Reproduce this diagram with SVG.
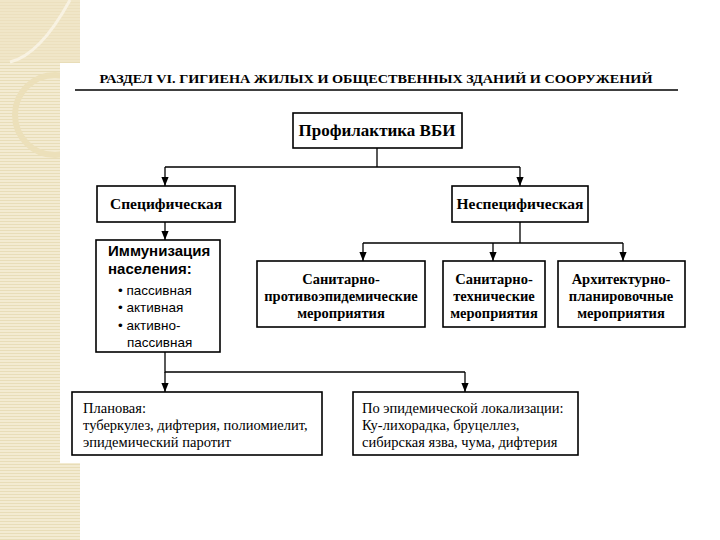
<svg xmlns="http://www.w3.org/2000/svg" width="720" height="540" viewBox="0 0 720 540">
<defs>
<pattern id="stripes" width="6" height="3" patternUnits="userSpaceOnUse">
<rect width="6" height="3" fill="#F3EBD2"/>
<rect y="2" width="6" height="1" fill="#E8DDB8"/>
</pattern>
<marker id="arr" viewBox="0 0 10 10" refX="10" refY="5" markerWidth="7" markerHeight="7" orient="auto">
<path d="M0,1 L10,5 L0,9 Z" fill="#000"/>
</marker>
<style>
.box{fill:#fff;stroke:#000;stroke-width:1.6}
.t{font-family:"Liberation Serif","Times New Roman",serif;font-weight:bold;font-size:14.5px;fill:#000;text-anchor:middle}
.s{font-family:"Liberation Sans",Arial,sans-serif;font-weight:bold;font-size:13.5px;fill:#000}
.b{font-family:"Liberation Sans",Arial,sans-serif;font-size:13.5px;fill:#000}
.r{font-family:"Liberation Serif","Times New Roman",serif;font-size:14.5px;fill:#000}
.c{fill:none;stroke:#000;stroke-width:1.3}
</style>
</defs>
<rect width="720" height="540" fill="#fff"/>
<g id="decor">
<rect x="0" y="0" width="80" height="540" fill="url(#stripes)"/>
<rect x="0" y="0" width="80" height="62" fill="#EFE3C2" opacity="0.6"/>
<path d="M10,62 Q40,55 70,0" fill="none" stroke="#F8F2E2" stroke-width="3"/>
<circle cx="55" cy="115" r="40" fill="none" stroke="#ECE0BA" stroke-width="6"/>
<rect x="60" y="63" width="660" height="400" fill="#fff"/>
</g>
<g id="header">
<text x="376" y="83" font-family="'Liberation Serif','Times New Roman',serif" font-weight="bold" font-size="13" text-anchor="middle" textLength="553" lengthAdjust="spacingAndGlyphs">РАЗДЕЛ VI. ГИГИЕНА ЖИЛЫХ И ОБЩЕСТВЕННЫХ ЗДАНИЙ И СООРУЖЕНИЙ</text>
<line x1="75" y1="90" x2="678" y2="90" stroke="#000" stroke-width="1.6"/>
</g>
<g id="connectors">
<path class="c" d="M377,148 V167 M165,167 H520"/>
<path class="c" d="M165,167 V186" marker-end="url(#arr)"/>
<path class="c" d="M520,167 V186" marker-end="url(#arr)"/>
<path class="c" d="M165,222 V240" marker-end="url(#arr)"/>
<path class="c" d="M520,222 V243 M363,243 H623"/>
<path class="c" d="M363,243 V261" marker-end="url(#arr)"/>
<path class="c" d="M493,243 V261" marker-end="url(#arr)"/>
<path class="c" d="M623,243 V261" marker-end="url(#arr)"/>
<path class="c" d="M165,352 V372 H465"/>
<path class="c" d="M165,372 V392" marker-end="url(#arr)"/>
<path class="c" d="M465,372 V392" marker-end="url(#arr)"/>
</g>
<g id="n-root">
<rect class="box" x="293" y="113" width="169" height="35"/>
<text class="t" x="377" y="136" style="font-size:17px">Профилактика ВБИ</text>
</g>
<g id="n-spec">
<rect class="box" x="97" y="186" width="138" height="36"/>
<text class="t" x="166" y="209" style="font-size:15.5px">Специфическая</text>
</g>
<g id="n-nonspec">
<rect class="box" x="452" y="186" width="136" height="36"/>
<text class="t" x="520" y="209" style="font-size:15.5px">Неспецифическая</text>
</g>
<g id="n-immun">
<rect class="box" x="96" y="240" width="124" height="112"/>
<text class="s" x="108" y="256" style="font-size:15px">Иммунизация</text>
<text class="s" x="108" y="274" style="font-size:15px">населения:</text>
<text class="b" x="118" y="295">• пассивная</text>
<text class="b" x="118" y="312">• активная</text>
<text class="b" x="118" y="330">• активно-</text>
<text class="b" x="127" y="347">пассивная</text>
</g>
<g id="n-san-epid">
<rect class="box" x="257" y="261" width="168" height="66"/>
<text class="t" x="341" y="284">Санитарно-</text>
<text class="t" x="341" y="301">противоэпидемические</text>
<text class="t" x="341" y="318">мероприятия</text>
</g>
<g id="n-san-tech">
<rect class="box" x="443" y="261" width="102" height="66"/>
<text class="t" x="494" y="284">Санитарно-</text>
<text class="t" x="494" y="301">технические</text>
<text class="t" x="494" y="318">мероприятия</text>
</g>
<g id="n-arch">
<rect class="box" x="558" y="261" width="127" height="66"/>
<text class="t" x="621" y="284">Архитектурно-</text>
<text class="t" x="621" y="301">планировочные</text>
<text class="t" x="621" y="318">мероприятия</text>
</g>
<g id="n-plan">
<rect class="box" x="72" y="392" width="250" height="63"/>
<text class="r" x="83" y="413">Плановая:</text>
<text class="r" x="83" y="430">туберкулез, дифтерия, полиомиелит,</text>
<text class="r" x="83" y="447">эпидемический паротит</text>
</g>
<g id="n-epid">
<rect class="box" x="353" y="392" width="225" height="63"/>
<text class="r" x="362" y="413">По эпидемической локализации:</text>
<text class="r" x="362" y="430">Ку-лихорадка, бруцеллез,</text>
<text class="r" x="362" y="447">сибирская язва, чума, дифтерия</text>
</g>
</svg>
